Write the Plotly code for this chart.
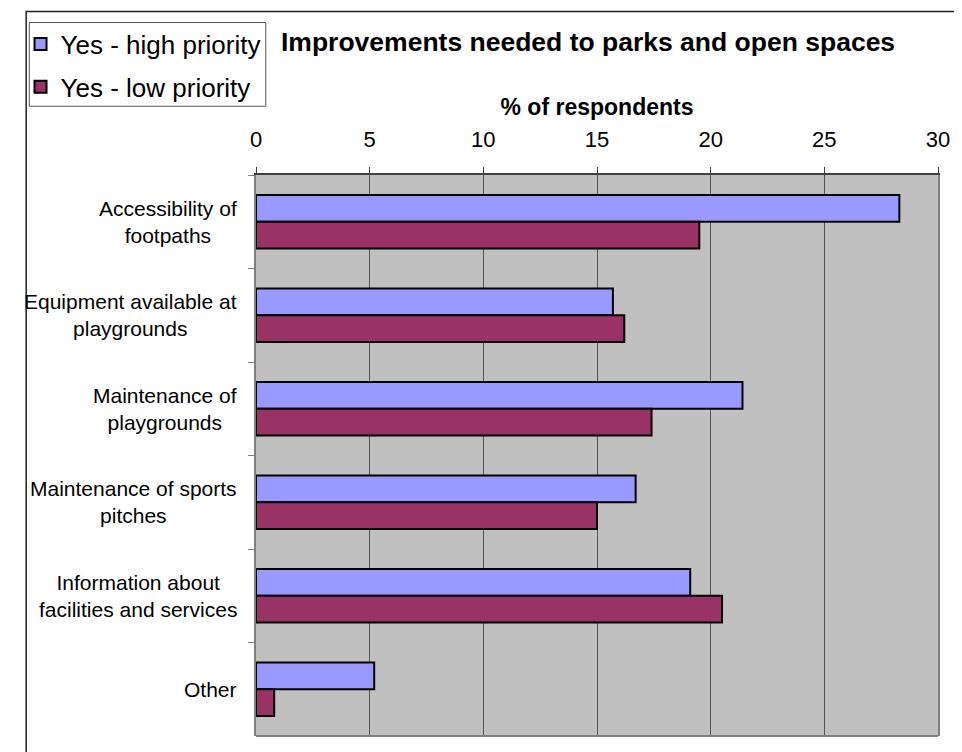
import plotly.graph_objects as go

categories = ["Accessibility of<br>footpaths",
              "Equipment available at<br>playgrounds",
              "Maintenance of<br>playgrounds",
              "Maintenance of sports<br>pitches",
              "Information about<br>facilities and services",
              "Other"]
high_priority = [28.3, 15.7, 21.4, 16.7, 19.1, 5.2]
low_priority = [19.5, 16.2, 17.4, 15.0, 20.5, 0.8]
series_names = ["Yes - high priority", "Yes - low priority"]
tick_vals = [0, 5, 10, 15, 20, 25, 30]

# page body has an 8px margin, so figure coordinates = page coordinates - 8
OFF = 8
W, H = 962 - OFF, 752 - OFF
L, R, T, B = 244 - OFF, 942 - OFF, 173 - OFF, 736 - OFF
pw, ph = R - L, B - T


def px(xp):
    return (xp - OFF - L) / pw


def py(yp):
    return (B - (yp - OFF)) / ph


fig = go.Figure()
fig.add_trace(go.Bar(y=categories, x=high_priority, orientation="h", name=series_names[0],
                     legendgroup="a",
                     marker=dict(color="#9999FF", line=dict(color="black", width=2))))
fig.add_trace(go.Bar(y=categories, x=low_priority, orientation="h", name=series_names[1],
                     legendgroup="b",
                     marker=dict(color="#993366", line=dict(color="black", width=2))))

font = "Liberation Sans, Arial, sans-serif"
annotations = []
for c in categories:
    annotations.append(dict(xref="paper", yref="y", x=0, y=c, xshift=-17, text=c,
                            showarrow=False, xanchor="right", yanchor="middle", align="center",
                            font=dict(family=font, size=21, color="black")))
annotations.append(dict(xref="paper", yref="paper", x=px(584), y=py(40),
                        text="<b>Improvements needed to parks and open spaces</b>",
                        showarrow=False, xanchor="center", yanchor="middle",
                        font=dict(family=font, size=26.5, color="black")))

shapes = [
    # outer chart border
    dict(type="rect", xref="paper", yref="paper", x0=px(8.8), x1=px(1000), y0=py(800), y1=py(8.8),
         line=dict(color="#222222", width=1.5), fillcolor="rgba(0,0,0,0)", layer="below"),
    # legend box
    dict(type="rect", xref="paper", yref="paper", x0=px(12), x1=px(254), y0=py(104), y1=py(20),
         line=dict(color="#555555", width=1), fillcolor="white", layer="below"),
    # bottom edge of plot area
    dict(type="line", xref="paper", yref="paper", x0=0, x1=1, y0=0, y1=0,
         line=dict(color="#808080", width=2)),
]

fig.update_layout(
    width=W, height=H,
    margin=dict(l=L, r=W - R, t=T, b=H - B, pad=0),
    paper_bgcolor="white", plot_bgcolor="#C0C0C0",
    barmode="group", bargap=0.43, bargroupgap=0,
    font=dict(family=font, size=21, color="black"),
    showlegend=True,
    legend=dict(x=px(3), y=py(18), xanchor="left", yanchor="top",
                bgcolor="rgba(0,0,0,0)", borderwidth=0,
                font=dict(family=font, size=26, color="black"),
                traceorder="grouped", tracegroupgap=6,
                itemwidth=30),
    annotations=annotations,
    shapes=shapes,
    xaxis=dict(side="top", range=[0, 30], tickvals=tick_vals,
               showgrid=True, gridcolor="#555555", gridwidth=1,
               showline=True, linecolor="#404040", linewidth=2,
               ticks="outside", ticklen=6, tickcolor="#404040",
               ticklabelstandoff=11,
               tickfont=dict(family=font, size=22, color="black"),
               title=dict(text="<b>% of respondents</b>", standoff=5,
                          font=dict(family=font, size=23, color="black")),
               zeroline=False, fixedrange=True),
    yaxis=dict(autorange="reversed", showticklabels=False,
               showline=True, linecolor="#808080", linewidth=2, mirror=True,
               ticks="outside", ticklen=6, tickcolor="#808080", tickson="boundaries",
               showgrid=False, fixedrange=True),
)

fig.write_html("out.html")
